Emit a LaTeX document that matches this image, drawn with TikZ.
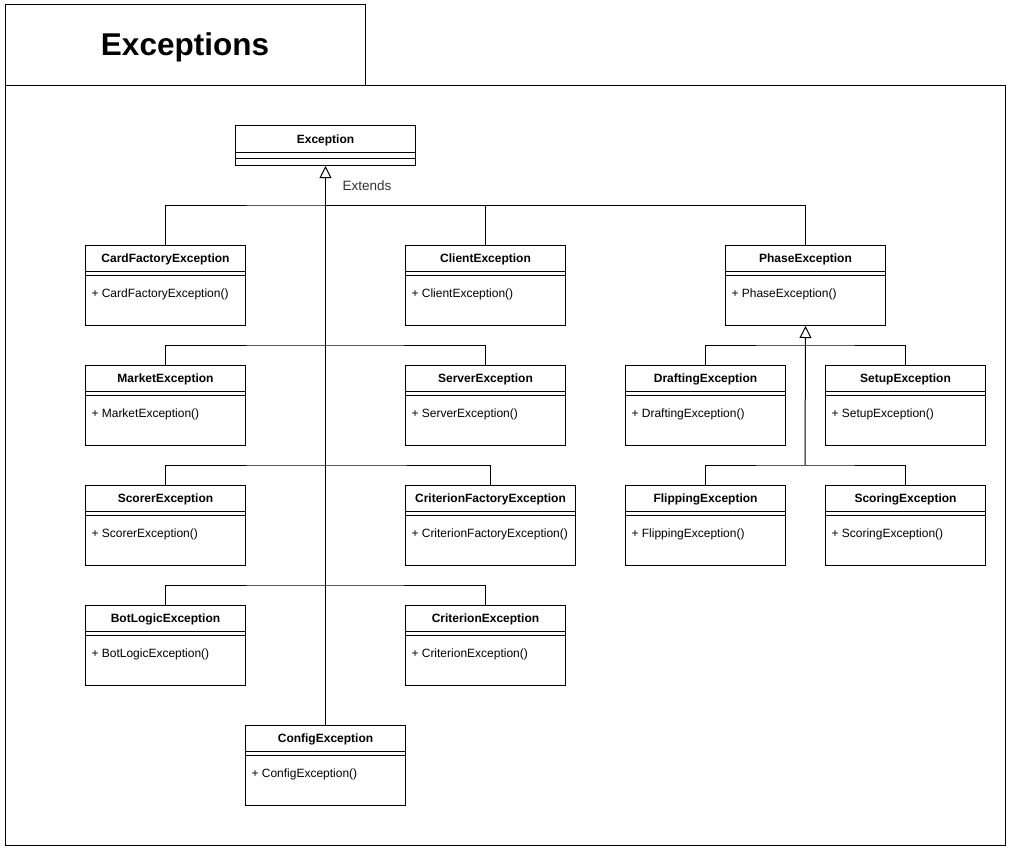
\documentclass[tikz,border=0pt]{standalone}
\usepackage{fontspec}
\setmainfont{Liberation Sans}
\usetikzlibrary{arrows.meta}
\tikzset{
  classbox/.style={draw, line width=1pt, minimum width=160pt, minimum height=80pt, anchor=north west, inner sep=0pt},
  classname/.style={font=\fontsize{12}{14}\selectfont\bfseries, inner sep=0pt},
  method/.style={font=\fontsize{12}{14}\selectfont, anchor=west, inner sep=0pt},
  extends/.style={line width=1pt, -{Triangle[length=12pt,width=12pt,fill=white]}},
}
\begin{document}
\begin{tikzpicture}[x=1pt, y=-1pt, line width=1pt]
\useasboundingbox[fill=white] (0,0) rectangle (1011,851);
\node[draw, minimum width=360pt, minimum height=80pt, inner sep=0pt] (title) at (185,45) {};
\node[inner sep=0pt, font=\fontsize{31.5}{36}\selectfont\bfseries] (titleT) at (185,47.5) {Exceptions};
\node[draw, minimum width=1000pt, minimum height=760pt, inner sep=0pt] (frame) at (505,465) {};

\node[classbox, minimum width=180pt, minimum height=40pt] (exc) at (235,125) {};
\node[classname] (excN) at ([yshift=-15]exc.north) {Exception};
\draw ([yshift=-27]exc.north west) -- ([yshift=-27]exc.north east) ([yshift=-33]exc.north west) -- ([yshift=-33]exc.north east);

\node[classbox] (card) at (85,245) {};
\node[classname] (cardN) at ([yshift=-14.5]card.north) {CardFactoryException};
\node[method] (cardM) at ([xshift=6,yshift=-49.5]card.north west) {+ CardFactoryException()};
\draw ([yshift=-26]card.north west) -- ([yshift=-26]card.north east) ([yshift=-30]card.north west) -- ([yshift=-30]card.north east);

\node[classbox] (client) at (405,245) {};
\node[classname] (clientN) at ([yshift=-14.5]client.north) {ClientException};
\node[method] (clientM) at ([xshift=6,yshift=-49.5]client.north west) {+ ClientException()};
\draw ([yshift=-26]client.north west) -- ([yshift=-26]client.north east) ([yshift=-30]client.north west) -- ([yshift=-30]client.north east);

\node[classbox] (phase) at (725,245) {};
\node[classname] (phaseN) at ([yshift=-14.5]phase.north) {PhaseException};
\node[method] (phaseM) at ([xshift=6,yshift=-49.5]phase.north west) {+ PhaseException()};
\draw ([yshift=-26]phase.north west) -- ([yshift=-26]phase.north east) ([yshift=-30]phase.north west) -- ([yshift=-30]phase.north east);

\node[classbox] (market) at (85,365) {};
\node[classname] (marketN) at ([yshift=-14.5]market.north) {MarketException};
\node[method] (marketM) at ([xshift=6,yshift=-49.5]market.north west) {+ MarketException()};
\draw ([yshift=-26]market.north west) -- ([yshift=-26]market.north east) ([yshift=-30]market.north west) -- ([yshift=-30]market.north east);

\node[classbox] (server) at (405,365) {};
\node[classname] (serverN) at ([yshift=-14.5]server.north) {ServerException};
\node[method] (serverM) at ([xshift=6,yshift=-49.5]server.north west) {+ ServerException()};
\draw ([yshift=-26]server.north west) -- ([yshift=-26]server.north east) ([yshift=-30]server.north west) -- ([yshift=-30]server.north east);

\node[classbox] (draft) at (625,365) {};
\node[classname] (draftN) at ([yshift=-14.5]draft.north) {DraftingException};
\node[method] (draftM) at ([xshift=6,yshift=-49.5]draft.north west) {+ DraftingException()};
\draw ([yshift=-26]draft.north west) -- ([yshift=-26]draft.north east) ([yshift=-30]draft.north west) -- ([yshift=-30]draft.north east);

\node[classbox] (setup) at (825,365) {};
\node[classname] (setupN) at ([yshift=-14.5]setup.north) {SetupException};
\node[method] (setupM) at ([xshift=6,yshift=-49.5]setup.north west) {+ SetupException()};
\draw ([yshift=-26]setup.north west) -- ([yshift=-26]setup.north east) ([yshift=-30]setup.north west) -- ([yshift=-30]setup.north east);

\node[classbox] (scorer) at (85,485) {};
\node[classname] (scorerN) at ([yshift=-14.5]scorer.north) {ScorerException};
\node[method] (scorerM) at ([xshift=6,yshift=-49.5]scorer.north west) {+ ScorerException()};
\draw ([yshift=-26]scorer.north west) -- ([yshift=-26]scorer.north east) ([yshift=-30]scorer.north west) -- ([yshift=-30]scorer.north east);

\node[classbox, minimum width=170pt] (critfac) at (405,485) {};
\node[classname] (critfacN) at ([yshift=-14.5]critfac.north) {CriterionFactoryException};
\node[method] (critfacM) at ([xshift=6,yshift=-49.5]critfac.north west) {+ CriterionFactoryException()};
\draw ([yshift=-26]critfac.north west) -- ([yshift=-26]critfac.north east) ([yshift=-30]critfac.north west) -- ([yshift=-30]critfac.north east);

\node[classbox] (flip) at (625,485) {};
\node[classname] (flipN) at ([yshift=-14.5]flip.north) {FlippingException};
\node[method] (flipM) at ([xshift=6,yshift=-49.5]flip.north west) {+ FlippingException()};
\draw ([yshift=-26]flip.north west) -- ([yshift=-26]flip.north east) ([yshift=-30]flip.north west) -- ([yshift=-30]flip.north east);

\node[classbox] (scoring) at (825,485) {};
\node[classname] (scoringN) at ([yshift=-14.5]scoring.north) {ScoringException};
\node[method] (scoringM) at ([xshift=6,yshift=-49.5]scoring.north west) {+ ScoringException()};
\draw ([yshift=-26]scoring.north west) -- ([yshift=-26]scoring.north east) ([yshift=-30]scoring.north west) -- ([yshift=-30]scoring.north east);

\node[classbox] (bot) at (85,605) {};
\node[classname] (botN) at ([yshift=-14.5]bot.north) {BotLogicException};
\node[method] (botM) at ([xshift=6,yshift=-49.5]bot.north west) {+ BotLogicException()};
\draw ([yshift=-26]bot.north west) -- ([yshift=-26]bot.north east) ([yshift=-30]bot.north west) -- ([yshift=-30]bot.north east);

\node[classbox] (crit) at (405,605) {};
\node[classname] (critN) at ([yshift=-14.5]crit.north) {CriterionException};
\node[method] (critM) at ([xshift=6,yshift=-49.5]crit.north west) {+ CriterionException()};
\draw ([yshift=-26]crit.north west) -- ([yshift=-26]crit.north east) ([yshift=-30]crit.north west) -- ([yshift=-30]crit.north east);

\node[classbox] (config) at (245,725) {};
\node[classname] (configN) at ([yshift=-14.5]config.north) {ConfigException};
\node[method] (configM) at ([xshift=6,yshift=-49.5]config.north west) {+ ConfigException()};
\draw ([yshift=-26]config.north west) -- ([yshift=-26]config.north east) ([yshift=-30]config.north west) -- ([yshift=-30]config.north east);

% junctions on the trunks
\coordinate (j1) at (325,205);
\coordinate (j2) at (325,345);
\coordinate (j3) at (325,465);
\coordinate (j4) at (325,585);
\coordinate (p1) at (805,345);
\coordinate (p2) at (805,465);

\draw[extends] (config.north) -- (exc.south);
\node[anchor=west, inner sep=0pt, text=black!80, font=\fontsize{13.5}{16}\selectfont] (extL) at (342,186) {Extends};
\draw (card.north) |- (j1) -| (client.north);
\draw (j1) -| (phase.north);
\draw (market.north) |- (j2) -| (server.north);
\draw (scorer.north) |- (j3) -| (critfac.north);
\draw (bot.north) |- (j4) -| (crit.north);

\draw[extends] (p2) -- (phase.south);
\draw (draft.north) |- (p1) -| (setup.north);
\draw (flip.north) |- (p2) -| (scoring.north);

\end{tikzpicture}
\end{document}
